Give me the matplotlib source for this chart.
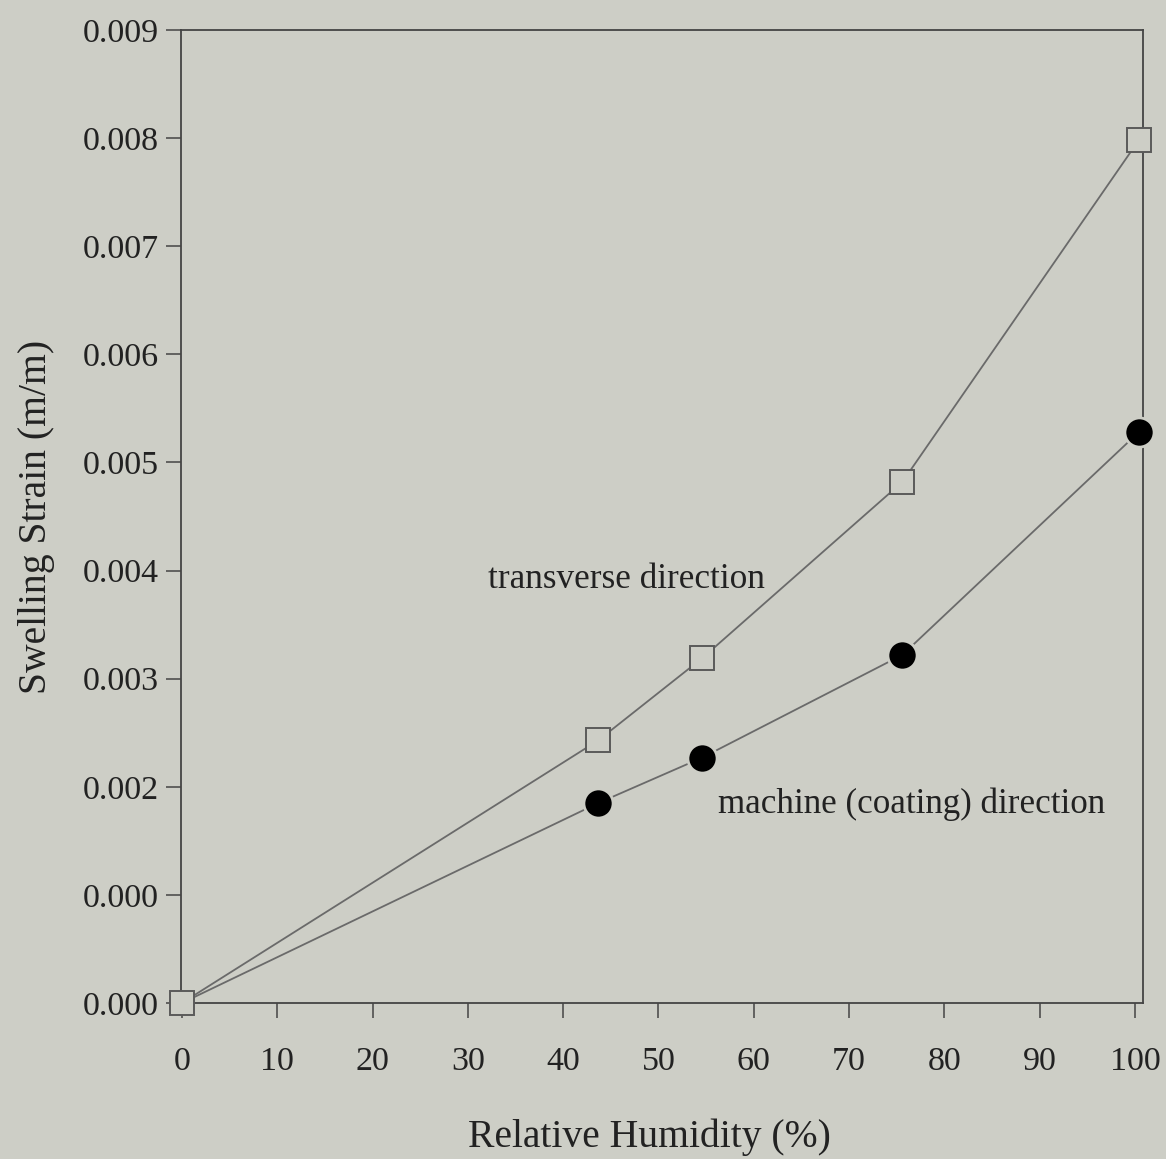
import matplotlib
matplotlib.use('Agg')
import matplotlib.pyplot as plt

# relative humidity (%) and swelling strain (m/m)
rh = [0, 43.7, 54.6, 75.6, 100.4]
transverse = [0, 0.00243, 0.00319, 0.00482, 0.00798]
machine = [0, 0.00185, 0.00227, 0.00322, 0.00528]

xticks = [0, 10, 20, 30, 40, 50, 60, 70, 80, 90, 100]
yticks = [0, 0.001, 0.002, 0.003, 0.004, 0.005, 0.006, 0.007, 0.008, 0.009]
ylabels = ['0.000', '0.000', '0.002', '0.003', '0.004', '0.005',
           '0.006', '0.007', '0.008', '0.009']

bg = '#cdcec6'
ink = '#222222'
plt.rcParams['font.family'] = ['Liberation Serif', 'DejaVu Serif']

fig = plt.figure(figsize=(11.66, 11.59), dpi=100)
fig.patch.set_facecolor(bg)
ax = fig.add_axes([0.1552, 0.1346, 0.8251, 0.8395])
ax.set_facecolor(bg)

# lines first, then markers on top with a background rim (gap like the scan)
ax.plot(rh, transverse, color='#6a6a6a', lw=1.3, zorder=2)
ax.plot(rh, machine, color='#6a6a6a', lw=1.3, zorder=2)
ax.plot(rh[1:], machine[1:], ls='none', marker='o', ms=21, mfc='black',
        mec=bg, mew=2, zorder=3, clip_on=False)
ax.plot(rh, transverse, ls='none', marker='s', ms=17, mfc=bg,
        mec='#5a5a5a', mew=1.4, zorder=4, clip_on=False)

ax.text(32.1, 0.00392, 'transverse direction', fontsize=25.4, color=ink,
        ha='left', va='center')
ax.text(56.2, 0.00184, 'machine (coating) direction', fontsize=25.2,
        color=ink, ha='left', va='center')

ax.set_xlim(-0.1, 100.85)
ax.set_ylim(0, 0.009)
ax.set_xticks(xticks)
ax.set_xticklabels([str(v) for v in xticks])
ax.set_yticks(yticks)
ax.set_yticklabels(ylabels)

ax.tick_params(axis='x', direction='out', length=11, width=1.1, pad=20,
               labelsize=24.5, colors='#444444', labelcolor=ink)
ax.tick_params(axis='y', direction='out', length=11, width=1.1, pad=5,
               labelsize=24.5, colors='#444444', labelcolor=ink)
for s in ax.spines.values():
    s.set_color('#444444')
    s.set_linewidth(1.3)

ax.set_xlabel('Relative Humidity (%)', fontsize=28.5, color=ink, labelpad=30)
ax.xaxis.label.set_x(0.4865)
ax.set_ylabel('Swelling Strain (m/m)', fontsize=28.5, color=ink, labelpad=20)

fig.savefig('out.png', dpi=100, facecolor=bg)
